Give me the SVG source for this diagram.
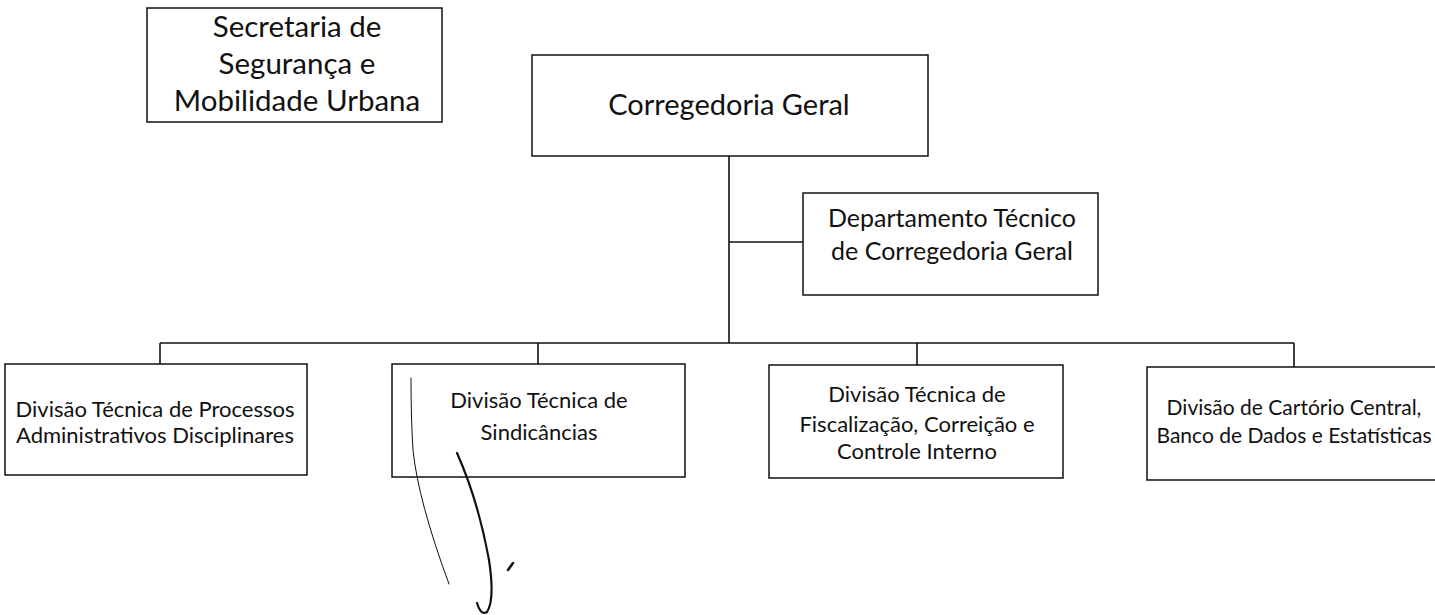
<svg xmlns="http://www.w3.org/2000/svg" width="1435" height="615" viewBox="0 0 1435 615">
<style>
.box{fill:#fff;stroke:#111;stroke-width:1.5}
.t{font-family:Lato,"Liberation Sans",sans-serif;fill:#111;text-anchor:middle}
.s{font-size:22px}
.c{stroke:#111;stroke-width:1.6;fill:none}
.hw{stroke:#111;fill:none;stroke-linecap:round}
</style>
<rect width="1435" height="615" fill="#fff"/>
<g id="connectors">
<line class="c" x1="729" y1="156" x2="729" y2="343"/>
<line class="c" x1="729" y1="242" x2="803" y2="242"/>
<line class="c" x1="160" y1="343" x2="1294" y2="343"/>
<line class="c" x1="160" y1="343" x2="160" y2="364"/>
<line class="c" x1="538" y1="343" x2="538" y2="364"/>
<line class="c" x1="917" y1="343" x2="917" y2="365"/>
<line class="c" x1="1294" y1="343" x2="1294" y2="367"/>
</g>
<g id="secretaria">
<rect class="box" x="147" y="8" width="295" height="114"/>
<text class="t" x="297" y="37" font-size="29.5">Secretaria de</text>
<text class="t" x="297" y="74" font-size="29.5">Segurança e</text>
<text class="t" x="297" y="111" font-size="29.5">Mobilidade Urbana</text>
</g>
<g id="corregedoria">
<rect class="box" x="532" y="55" width="396" height="101"/>
<text class="t" x="729" y="115" font-size="29">Corregedoria Geral</text>
</g>
<g id="departamento">
<rect class="box" x="803" y="193" width="295" height="102"/>
<text class="t" x="952" y="227" font-size="25">Departamento Técnico</text>
<text class="t" x="952" y="260" font-size="25">de Corregedoria Geral</text>
</g>
<g id="div-processos">
<rect class="box" x="5" y="364" width="302" height="111"/>
<text class="t s" x="155" y="417">Divisão Técnica de Processos</text>
<text class="t s" x="155" y="443">Administrativos Disciplinares</text>
</g>
<g id="div-sindicancias">
<rect class="box" x="392" y="364" width="293" height="113"/>
<text class="t s" x="539" y="408">Divisão Técnica de</text>
<text class="t s" x="539" y="440">Sindicâncias</text>
</g>
<g id="div-fiscalizacao">
<rect class="box" x="769" y="365" width="294" height="113"/>
<text class="t s" x="917" y="402">Divisão Técnica de</text>
<text class="t s" x="917" y="432">Fiscalização, Correição e</text>
<text class="t s" x="917" y="459">Controle Interno</text>
</g>
<g id="div-cartorio">
<rect class="box" x="1147" y="367" width="300" height="113"/>
<text class="t" x="1294" y="415" font-size="21">Divisão de Cartório Central,</text>
<text class="t" x="1294" y="443" font-size="21">Banco de Dados e Estatísticas</text>
</g>
<g id="handwriting">
<path class="hw" stroke-width="1" d="M411 378 Q411 420 413 450 Q418 500 449 584"/>
<path class="hw" stroke-width="2.2" d="M457 453 Q478 500 489 560 Q495 600 487 612 Q481 616 477 603"/>
<path class="hw" stroke-width="2.5" d="M508 570 L513 563"/>
</g>
</svg>
